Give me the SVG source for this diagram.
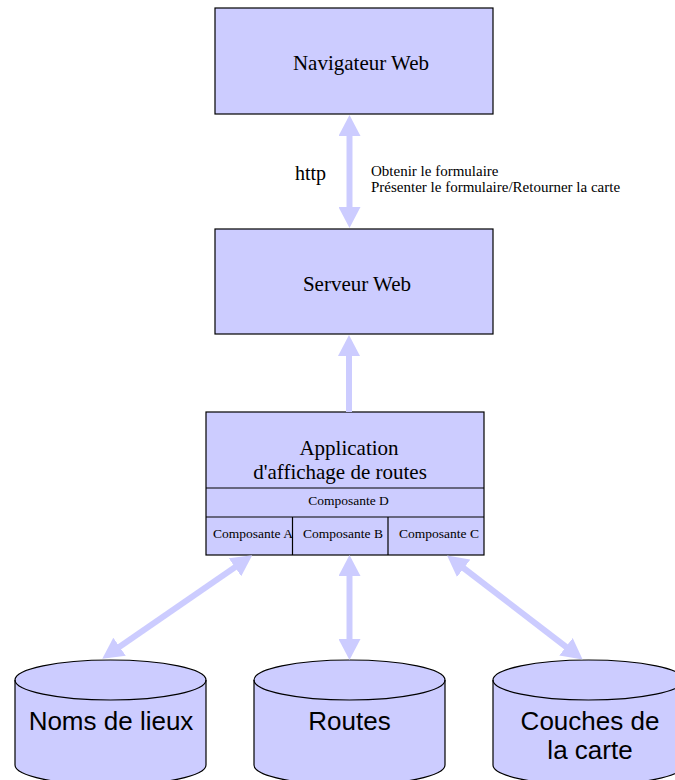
<svg xmlns="http://www.w3.org/2000/svg" width="675" height="780" viewBox="0 0 675 780">
  <style>
    .box { fill: #ccccff; stroke: #000; stroke-width: 1.2; }
    .div { fill: none; stroke: #000; stroke-width: 1.2; }
    .serif { font-family: "Liberation Serif", "Times New Roman", serif; fill: #000; }
    .sans { font-family: "Liberation Sans", Arial, sans-serif; fill: #000; }
    .t21 { font-size: 21px; }
    .t20 { font-size: 20px; }
    .t15 { font-size: 15px; }
    .t13 { font-size: 13.5px; }
    .t26 { font-size: 26px; }
    .link { fill: none; stroke: #ccccff; stroke-width: 6; }
  </style>
  <defs>
    <marker id="head" viewBox="0 0 21 22" refX="11" refY="11" markerWidth="21" markerHeight="22" markerUnits="userSpaceOnUse" orient="auto-start-reverse">
      <path d="M0,0 L21,11 L0,22 z" fill="#ccccff"/>
    </marker>
  </defs>

  <rect width="675" height="780" fill="#fff"/>

  <!-- browser -->
  <g id="navigateur">
    <rect class="box" x="215" y="8" width="278" height="106"/>
    <text class="serif t21" x="361" y="70" text-anchor="middle">Navigateur Web</text>
  </g>

  <!-- web server -->
  <g id="serveur">
    <rect class="box" x="215" y="229" width="278" height="105"/>
    <text class="serif t21" x="357" y="291" text-anchor="middle">Serveur Web</text>
  </g>

  <!-- route display application with its components -->
  <g id="application">
    <rect class="box" x="206" y="412" width="278" height="143"/>
    <text class="serif t21" x="349" y="455" text-anchor="middle">Application</text>
    <text class="serif t21" x="340" y="479" text-anchor="middle">d'affichage de routes</text>
    <path class="div" d="M206,488 H484 M206,517 H484 M292.5,517 V555 M388,517 V555"/>
    <text class="serif t13" x="348.5" y="505" text-anchor="middle">Composante D</text>
    <text class="serif t13" x="253" y="538" text-anchor="middle">Composante A</text>
    <text class="serif t13" x="343" y="538" text-anchor="middle">Composante B</text>
    <text class="serif t13" x="439" y="538" text-anchor="middle">Composante C</text>
  </g>

  <!-- data stores -->
  <g id="noms-de-lieux">
    <path class="box" d="M15,680 A95.5,20 0 0 1 206,680 V765 A95.5,20 0 0 1 15,765 Z"/>
    <path class="div" d="M15,680 A95.5,20 0 0 0 206,680"/>
    <text class="sans t26" x="111" y="730" text-anchor="middle">Noms de lieux</text>
  </g>
  <g id="routes">
    <path class="box" d="M254,680 A95.5,20 0 0 1 445,680 V765 A95.5,20 0 0 1 254,765 Z"/>
    <path class="div" d="M254,680 A95.5,20 0 0 0 445,680"/>
    <text class="sans t26" x="349.5" y="730" text-anchor="middle">Routes</text>
  </g>
  <g id="couches">
    <path class="box" d="M493,680 A95.5,20 0 0 1 684,680 V765 A95.5,20 0 0 1 493,765 Z"/>
    <path class="div" d="M493,680 A95.5,20 0 0 0 684,680"/>
    <text class="sans t26" x="590" y="730" text-anchor="middle">Couches de</text>
    <text class="sans t26" x="590" y="759" text-anchor="middle">la carte</text>
  </g>

  <!-- connectors -->
  <g id="connectors">
    <line class="link" x1="349.5" y1="125" x2="349.5" y2="218" marker-start="url(#head)" marker-end="url(#head)"/>
    <line class="link" x1="349" y1="412" x2="349" y2="345" marker-end="url(#head)"/>
    <line class="link" x1="244" y1="561" x2="110.5" y2="653" marker-start="url(#head)" marker-end="url(#head)"/>
    <line class="link" x1="349.5" y1="565" x2="349.5" y2="650" marker-start="url(#head)" marker-end="url(#head)"/>
    <line class="link" x1="455" y1="561.5" x2="574.7" y2="653.5" marker-start="url(#head)" marker-end="url(#head)"/>
  </g>

  <!-- protocol labels -->
  <g id="labels">
    <text class="serif t20" x="295" y="180">http</text>
    <text class="serif t15" x="371" y="176">Obtenir le formulaire</text>
    <text class="serif t15" x="371" y="192">Présenter le formulaire/Retourner la carte</text>
  </g>
</svg>
